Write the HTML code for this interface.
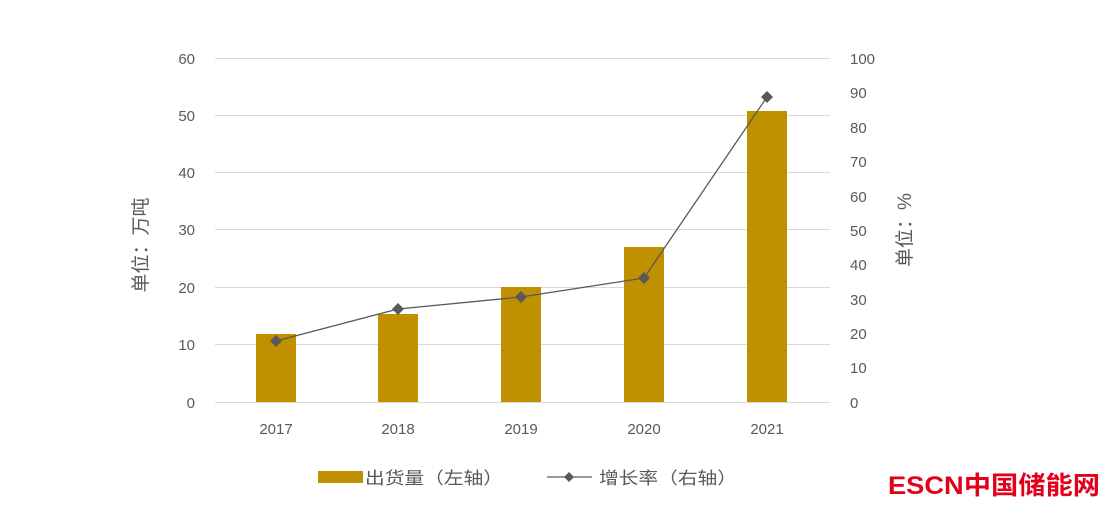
<!DOCTYPE html><html><head><meta charset="utf-8"><style>body{margin:0;background:#fff}svg{display:block}text{font-family:"Liberation Sans","Noto Sans CJK SC",sans-serif;fill:#595959}</style></head><body>
<svg width="1120" height="511" viewBox="0 0 1120 511">
<g stroke="#d9d9d9" stroke-width="1">
<line x1="215" x2="830" y1="58.5" y2="58.5"/><line x1="215" x2="830" y1="115.5" y2="115.5"/><line x1="215" x2="830" y1="172.5" y2="172.5"/><line x1="215" x2="830" y1="229.5" y2="229.5"/><line x1="215" x2="830" y1="287.5" y2="287.5"/><line x1="215" x2="830" y1="344.5" y2="344.5"/><line x1="215" x2="830" y1="402.5" y2="402.5"/>
</g>
<g font-size="15" text-anchor="end">
<text x="195" y="64">60</text><text x="195" y="121">50</text><text x="195" y="178">40</text><text x="195" y="235">30</text><text x="195" y="293">20</text><text x="195" y="350">10</text><text x="195" y="408">0</text>
</g>
<g font-size="15">
<text x="850" y="64">100</text><text x="850" y="98">90</text><text x="850" y="133">80</text><text x="850" y="167">70</text><text x="850" y="202">60</text><text x="850" y="236">50</text><text x="850" y="270">40</text><text x="850" y="305">30</text><text x="850" y="339">20</text><text x="850" y="373">10</text><text x="850" y="408">0</text>
</g>
<g fill="#bf9000">
<rect x="256" y="334" width="40" height="68"/><rect x="378" y="314" width="40" height="88"/><rect x="501" y="287" width="40" height="115"/><rect x="624" y="247" width="40" height="155"/><rect x="747" y="111" width="40" height="291"/>
</g>
<polyline points="276,341 398,309 521,297 644,278 767,97" fill="none" stroke="#595959" stroke-width="1.3"/>
<g fill="#595959">
<path d="M276,335l6,6-6,6-6-6z"/><path d="M398,303l6,6-6,6-6-6z"/><path d="M521,291l6,6-6,6-6-6z"/><path d="M644,272l6,6-6,6-6-6z"/><path d="M767,91l6,6-6,6-6-6z"/>
</g>
<g font-size="15" text-anchor="middle">
<text x="276" y="434">2017</text><text x="398" y="434">2018</text><text x="521" y="434">2019</text><text x="644" y="434">2020</text><text x="767" y="434">2021</text>
</g>
<text font-size="19" text-anchor="middle" transform="translate(147,245) rotate(-90)">单位：万吨</text>
<text font-size="19" text-anchor="middle" transform="translate(911,230) rotate(-90)">单位：%</text>
<rect x="318" y="471" width="45" height="12" fill="#bf9000"/>
<text x="365" y="484" font-size="17" textLength="138" lengthAdjust="spacingAndGlyphs">出货量（左轴）</text>
<line x1="547" x2="592" y1="477" y2="477" stroke="#595959" stroke-width="1.3"/>
<path d="M569,472l5,5-5,5-5-5z" fill="#595959"/>
<text x="599" y="484" font-size="17" textLength="138" lengthAdjust="spacingAndGlyphs">增长率（右轴）</text>
<text x="888" y="494" font-size="25" font-weight="bold" style="fill:#e3001b" textLength="212" lengthAdjust="spacingAndGlyphs">ESCN中国储能网</text>
</svg></body></html>
